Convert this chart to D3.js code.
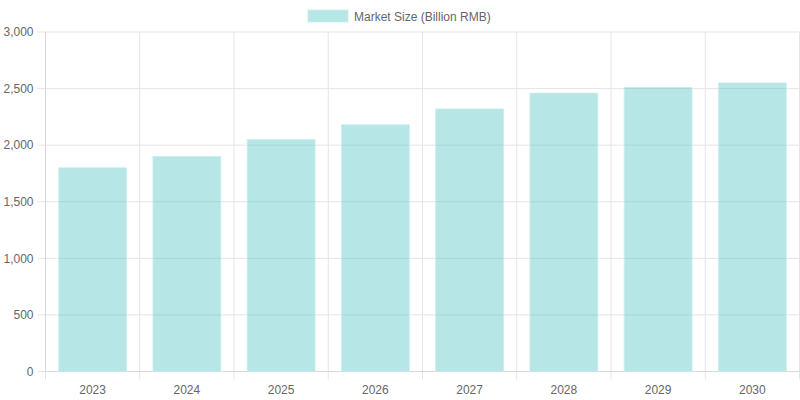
<!DOCTYPE html>
<html>
  <head>
    <script src="https://d3js.org/d3.v7.min.js"></script>
    <style>
      body { margin: 0; background: #fff; }
      svg text { font-family: "Liberation Sans", Arial, sans-serif; }
    </style>
  </head>
  <body>
    <svg id="chart" width="800" height="400"></svg>
    <script>
      // chart values
      const years = ["2023", "2024", "2025", "2026", "2027", "2028", "2029", "2030"];
      const marketSize = [1800, 1900, 2050, 2180, 2320, 2460, 2510, 2550];
      const yTicks = [0, 500, 1000, 1500, 2000, 2500, 3000];
      const seriesName = "Market Size (Billion RMB)";

      const margin = { top: 32, right: 0.5, bottom: 28.5, left: 45.5 };
      const width = 800 - margin.left - margin.right;
      const height = 400 - margin.top - margin.bottom;

      const svg = d3.select("#chart");
      const g = svg.append("g")
        .attr("transform", "translate(" + margin.left + "," + margin.top + ")");

      const x = d3.scaleBand().domain(years).range([0, width]).padding(0);
      const y = d3.scaleLinear().domain([0, 3000]).range([height, 0]);

      const gridColor = "#e5e5e5";
      const textColor = "#666";

      // vertical grid (category boundaries) with tick marks below
      const bounds = years.map((d) => x(d)).concat([width]);
      g.append("g").selectAll("line")
        .data(bounds)
        .enter()
        .append("line")
        .attr("x1", (d) => d).attr("x2", (d) => d)
        .attr("y1", 0).attr("y2", height + 8)
        .attr("stroke", gridColor).attr("stroke-width", 1);

      // horizontal grid with tick marks on the left
      g.append("g").selectAll("line")
        .data(yTicks)
        .enter()
        .append("line")
        .attr("x1", -8).attr("x2", width)
        .attr("y1", (d) => y(d)).attr("y2", (d) => y(d))
        .attr("stroke", gridColor).attr("stroke-width", 1);

      // axis lines
      g.append("line")
        .attr("x1", 0).attr("x2", 0).attr("y1", 0).attr("y2", height)
        .attr("stroke", "#d8d8d8");
      g.append("line")
        .attr("x1", 0).attr("x2", width).attr("y1", height).attr("y2", height)
        .attr("stroke", "#d8d8d8");

      // bars (categoryPercentage 0.8, barPercentage 0.9)
      const barW = x.bandwidth() * 0.72;
      g.append("g").selectAll("rect")
        .data(years)
        .enter()
        .append("rect")
        .attr("x", (d) => x(d) + (x.bandwidth() - barW) / 2)
        .attr("y", (d, i) => y(marketSize[i]))
        .attr("width", barW)
        .attr("height", (d, i) => height - y(marketSize[i]))
        .attr("fill", "rgba(75,192,192,0.4)")
        .attr("stroke", "rgba(200,236,236,0.8)")
        .attr("stroke-width", 1);

      // y tick labels
      const fmt = d3.format(",");
      g.append("g").selectAll("text")
        .data(yTicks)
        .enter()
        .append("text")
        .attr("x", -12)
        .attr("y", (d) => y(d))
        .attr("dy", "0.35em")
        .attr("text-anchor", "end")
        .attr("font-size", 12)
        .attr("fill", textColor)
        .text((d) => fmt(d));

      // x tick labels
      g.append("g").selectAll("text")
        .data(years)
        .enter()
        .append("text")
        .attr("x", (d) => x(d) + x.bandwidth() / 2)
        .attr("y", height + 22)
        .attr("text-anchor", "middle")
        .attr("font-size", 12)
        .attr("fill", textColor)
        .text((d) => d);

      // legend
      const legend = svg.append("g").attr("transform", "translate(308,10)");
      legend.append("rect")
        .attr("width", 40).attr("height", 12)
        .attr("fill", "rgba(75,192,192,0.4)")
        .attr("stroke", "rgba(200,236,236,0.8)");
      legend.append("text")
        .attr("x", 46).attr("y", 10.5)
        .attr("font-size", 12)
        .attr("fill", textColor)
        .text(seriesName);
    </script>
  </body>
</html>
